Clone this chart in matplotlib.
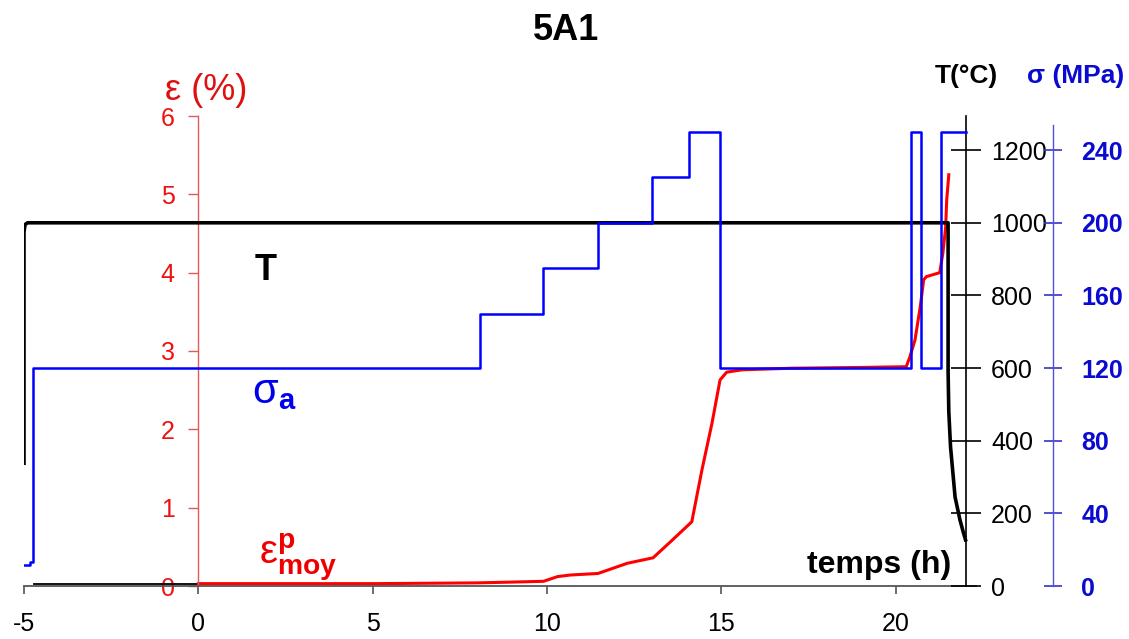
import matplotlib
matplotlib.use('Agg')
import matplotlib.pyplot as plt

plt.rcParams['font.family'] = ['Liberation Sans', 'DejaVu Sans']
plt.rcParams['axes.unicode_minus'] = False
plt.rcParams['mathtext.fontset'] = 'custom'
plt.rcParams['mathtext.rm'] = 'Liberation Sans'
plt.rcParams['mathtext.bf'] = 'Liberation Sans:bold'
plt.rcParams['mathtext.it'] = 'Liberation Sans:italic'

# temperature T (°C) vs temps (h)
temp_t = [-5.0, -5.0, -4.97, -4.9, 21.5, 21.5, 21.52, 21.57, 21.7, 21.84, 21.93, 22.0]
temp_v = [338, 975, 995, 1000, 1000, 590, 480, 383, 245, 182, 150, 127]

# contrainte appliquee sigma_a (MPa), paliers
sigma_t = [-5.0, -4.83, -4.74, 8.08, 9.89, 11.46, 13.0, 14.07, 14.96, 20.43, 20.72, 21.29, 22.0]
sigma_v = [11.6, 13.2, 120, 150, 175, 200, 225, 250, 120, 250, 120, 250, 250]

# deformation plastique moyenne (%)
eps_t = [0, 5, 8, 9, 9.9, 10.3, 10.66, 11.46, 12.3, 13.04, 13.6, 14.15, 14.44, 14.73,
         14.96, 15.15, 15.6, 17, 19, 20.3, 20.4, 20.55, 20.7, 20.8, 20.88, 21.26,
         21.35, 21.43, 21.46, 21.52]
eps_v = [0.03, 0.03, 0.04, 0.05, 0.06, 0.12, 0.14, 0.16, 0.29, 0.36, 0.59, 0.82, 1.48, 2.08,
         2.63, 2.73, 2.76, 2.78, 2.79, 2.80, 2.92, 3.14, 3.56, 3.91, 3.95, 4.0,
         4.25, 4.58, 4.93, 5.25]
# avant t=0 : trait noir a zero
pre_t = [-4.7, 0]
pre_v = [0.03, 0.03]

x_ticks = [-5, 0, 5, 10, 15, 20]
eps_ticks = [0, 1, 2, 3, 4, 5, 6]
temp_ticks = [0, 200, 400, 600, 800, 1000, 1200]
sigma_ticks = [0, 40, 80, 120, 160, 200, 240]

fig = plt.figure(figsize=(11.29, 6.39), dpi=100)
ax = fig.add_axes([24 / 1129, 53 / 639, 952 / 1129, 470 / 639])
ax.set_xlim(-5, 22.3)
ax.set_ylim(0, 6)
ax.patch.set_visible(False)

# axe rouge (epsilon) place en t=0
for s in ['top', 'right']:
    ax.spines[s].set_visible(False)
ax.spines['left'].set_position(('data', 0))
ax.spines['left'].set_color('#e05a5a')
ax.spines['left'].set_linewidth(1.0)
ax.spines['bottom'].set_color('#555555')
ax.spines['bottom'].set_linewidth(1.3)
ax.set_xticks(x_ticks)
ax.set_yticks(eps_ticks)
ax.tick_params(axis='x', direction='out', length=6, width=1.2, color='#555555',
               labelsize=18, pad=13)
ax.tick_params(axis='y', direction='out', length=7, width=1.0, color='#e05a5a',
               labelcolor='#ee1111', labelsize=18, pad=10)

ax.plot(pre_t, pre_v, color='black', lw=1.3)
ax.plot(eps_t, eps_v, color='#ff0000', lw=2.2)

# axe temperature
ax2 = ax.twinx()
ax2.set_ylim(0, 1294)
for s in ['top', 'left', 'bottom']:
    ax2.spines[s].set_visible(False)
ax2.spines['right'].set_position(('data', 22))
ax2.spines['right'].set_color('black')
ax2.spines['right'].set_linewidth(1.2)
ax2.set_yticks(temp_ticks)
ax2.tick_params(axis='y', direction='inout', length=21, width=1.2, color='black',
                labelsize=18, pad=8)
ax2.plot(temp_t, temp_v, color='black', lw=2.6)

# axe contrainte
ax3 = ax.twinx()
ax3.set_ylim(0, 258.8)
for s in ['top', 'left', 'bottom']:
    ax3.spines[s].set_visible(False)
ax3.spines['right'].set_position(('data', 24.5))
ax3.spines['right'].set_color('#5050d8')
ax3.spines['right'].set_linewidth(1.0)
ax3.spines['right'].set_bounds(0, 254)
ax3.set_yticks(sigma_ticks)
ax3.tick_params(axis='y', direction='inout', length=13, width=1.2, color='#3333cc',
                labelcolor='#0a0ad0', labelsize=18, pad=14)
for lab in ax3.get_yticklabels():
    lab.set_fontweight('bold')
ax3.step(sigma_t, sigma_v, where='post', color='#0000ff', lw=1.8)

# etiquettes dans le graphique
ax.text(1.94, 4.03, 'T', fontsize=26, fontweight='bold', ha='center', va='center')
ax.text(1.55, 2.34, r'$\mathrm{σ}_{\mathbf{a}}$', fontsize=30, color='#0000ee',
        ha='left', va='baseline')
ax.text(1.75, 0.27, r'$\mathrm{ε}^{\mathbf{p}}_{\mathbf{moy}}$', fontsize=29,
        color='#ee0000', ha='left', va='baseline')
ax.text(21.6, 0.17, 'temps (h)', fontsize=23, fontweight='bold', ha='right',
        va='baseline')

fig.text(566 / 1129, 1 - 31 / 639, '5A1', fontsize=26, fontweight='bold',
         ha='center', va='center')
fig.text(165 / 1129, 1 - 90 / 639, 'ε (%)', fontsize=26, color='#dd1111',
         ha='left', va='center')
fig.text(935 / 1129, 1 - 76 / 639, 'T(°C)', fontsize=19, fontweight='bold',
         ha='left', va='center')
fig.text(1027 / 1129, 1 - 76 / 639, 'σ (MPa)', fontsize=19, fontweight='bold',
         color='#0a0ad0', ha='left', va='center')

fig.savefig('out.png', dpi=100)
